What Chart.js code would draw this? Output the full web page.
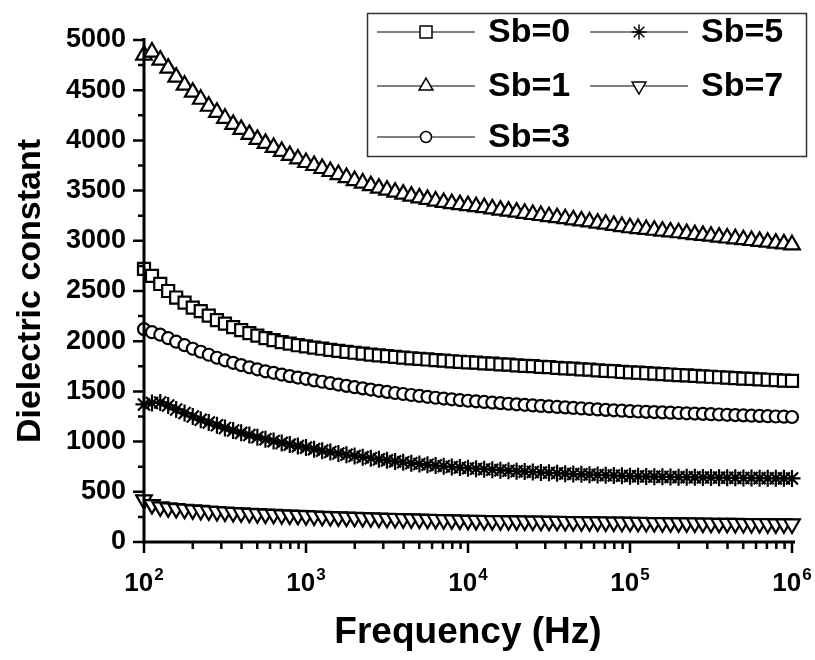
<!DOCTYPE html>
<html>
<head>
<meta charset="utf-8">
<script src="https://cdn.jsdelivr.net/npm/chart.js"></script>
<style>
  html, body { margin: 0; padding: 0; background: #fff; }
  #wrap { width: 815px; height: 660px; }
</style>
</head>
<body>
<div id="wrap"><canvas id="dielectricChart" width="815" height="660"></canvas></div>
<script>
// frequency points (Hz), 20 per decade
const freqHz = [
  100, 112, 126, 141, 158, 178, 200, 224, 251, 282, 316, 355, 398, 447, 501, 562, 631, 708, 794, 891,
  1000, 1122, 1259, 1413, 1585, 1778, 1995, 2239, 2512, 2818, 3162, 3548, 3981, 4467, 5012, 5623, 6310, 7079, 7943, 8913,
  10000, 11220, 12589, 14125, 15849, 17783, 19953, 22387, 25119, 28184, 31623, 35481, 39811, 44668, 50119, 56234, 63096, 70795, 79433, 89125,
  100000, 112202, 125893, 141254, 158489, 177828, 199526, 223872, 251189, 281838, 316228, 354813, 398107, 446684, 501187, 562341, 630957, 707946, 794328, 891251,
  1000000
];

const sb0 = [
  2720, 2650, 2570, 2500, 2435, 2385, 2335, 2300, 2255, 2210, 2175, 2140, 2110, 2080, 2055, 2030, 2010, 1990, 1975, 1960,
  1948, 1936, 1925, 1914, 1904, 1894, 1885, 1876, 1867, 1859, 1851, 1844, 1837, 1830, 1824, 1818, 1812, 1806, 1800, 1795,
  1790, 1786, 1780, 1776, 1770, 1766, 1760, 1755, 1751, 1745, 1741, 1735, 1730, 1726, 1720, 1716, 1710, 1705, 1701, 1695,
  1690, 1686, 1681, 1677, 1672, 1668, 1663, 1659, 1654, 1650, 1646, 1641, 1637, 1632, 1628, 1624, 1620, 1616, 1612, 1608,
  1605
];

const sb1 = [
  4850, 4880, 4800, 4720, 4630, 4550, 4480, 4410, 4340, 4280, 4220, 4160, 4110, 4060, 4010, 3970, 3930, 3890, 3850, 3815,
  3780, 3750, 3720, 3690, 3660, 3630, 3600, 3575, 3550, 3525, 3505, 3485, 3465, 3445, 3428, 3412, 3396, 3382, 3370, 3360,
  3350, 3340, 3330, 3318, 3306, 3296, 3286, 3274, 3262, 3252, 3240, 3230, 3220, 3208, 3198, 3188, 3176, 3166, 3154, 3142,
  3130, 3122, 3113, 3105, 3096, 3088, 3080, 3071, 3062, 3054, 3046, 3037, 3028, 3020, 3011, 3003, 2994, 2986, 2977, 2969,
  2960
];

const sb3 = [
  2120, 2090, 2065, 2030, 1995, 1960, 1925, 1895, 1865, 1835, 1810, 1785, 1762, 1740, 1720, 1700, 1685, 1668, 1652, 1638,
  1625, 1610, 1596, 1582, 1568, 1555, 1542, 1530, 1518, 1506, 1495, 1484, 1474, 1464, 1455, 1446, 1437, 1429, 1421, 1414,
  1407, 1401, 1395, 1389, 1383, 1377, 1371, 1366, 1360, 1355, 1350, 1345, 1340, 1335, 1330, 1325, 1320, 1316, 1312, 1308,
  1303, 1300, 1297, 1294, 1291, 1288, 1285, 1282, 1279, 1276, 1273, 1270, 1267, 1264, 1261, 1258, 1256, 1253, 1250, 1248,
  1245
];

const sb5 = [
  1370, 1385, 1390, 1360, 1320, 1285, 1250, 1218, 1190, 1162, 1135, 1110, 1087, 1065, 1044, 1024, 1005, 987, 970, 955,
  940, 925, 910, 896, 882, 869, 857, 845, 834, 823, 813, 803, 794, 785, 777, 769, 761, 754, 747, 741,
  735, 730, 725, 720, 715, 710, 705, 701, 697, 693, 689, 685, 681, 677, 674, 671, 668, 665, 662, 659,
  656, 654, 652, 651, 649, 648, 646, 645, 644, 643, 642, 641, 640, 639, 638, 637, 636, 635, 634, 634,
  633
];

const sb7 = [
  420, 372, 350, 340, 333, 326, 320, 314, 309, 304, 299, 294, 290, 286, 282, 278, 275, 271, 268, 265,
  262, 259, 256, 253, 250, 248, 245, 243, 240, 238, 236, 234, 232, 230, 228, 226, 224, 222, 220, 218,
  216, 215, 214, 213, 212, 211, 210, 209, 208, 207, 206, 205, 204, 203, 202, 201, 200, 199, 198, 197,
  196, 195, 194, 193, 192, 191, 190, 190, 189, 188, 187, 186, 186, 185, 184, 183, 183, 182, 181, 181,
  180
];

const xDecades = [2, 3, 4, 5, 6];

const FONT = '"Liberation Sans", Arial, Helvetica, sans-serif';
Chart.defaults.font.family = FONT;
Chart.defaults.color = "#000";

function makeSet(label, values, style, radius, rotation, legendRadius) {
  return {
    label: label,
    data: values.map((v, i) => ({ x: freqHz[i], y: v })),
    borderColor: "#000",
    borderWidth: 1,
    pointStyle: style,
    pointRadius: radius,
    pointRotation: rotation,
    pointBackgroundColor: "#fff",
    pointBorderColor: "#000",
    pointBorderWidth: 2.2,
    legendRadius: legendRadius,
    tension: 0,
    clip: false,
  };
}

// draws the axis lines and the major / minor tick marks
const axesPlugin = {
  id: "originAxes",
  afterDatasetsDraw(chart) {
    const { ctx, chartArea, scales } = chart;
    const xs = scales.x, ys = scales.y;
    ctx.save();
    ctx.strokeStyle = "#000";
    ctx.lineWidth = 3;
    ctx.beginPath();
    ctx.moveTo(chartArea.left, chartArea.top - 2);
    ctx.lineTo(chartArea.left, chartArea.bottom + 1.5);
    ctx.moveTo(chartArea.left - 1.5, chartArea.bottom);
    ctx.lineTo(chartArea.right + 3, chartArea.bottom);
    ctx.stroke();

    ctx.lineWidth = 2.5;
    ctx.beginPath();
    for (let v = ys.min; v <= ys.max; v += 250) {
      const py = ys.getPixelForValue(v);
      const len = v % 500 === 0 ? 11 : 6;
      ctx.moveTo(chartArea.left, py);
      ctx.lineTo(chartArea.left - len, py);
    }
    for (let e = 2; e <= 6; e++) {
      for (let m = 1; m <= (e === 6 ? 1 : 9); m++) {
        const px = xs.getPixelForValue(m * Math.pow(10, e));
        const len = m === 1 ? 11 : 7;
        ctx.moveTo(px, chartArea.bottom);
        ctx.lineTo(px, chartArea.bottom + len);
      }
    }
    ctx.stroke();

    // decade labels with superscript exponent
    ctx.fillStyle = "#000";
    ctx.textBaseline = "alphabetic";
    ctx.textAlign = "left";
    xDecades.forEach((e) => {
      const px = xs.getPixelForValue(Math.pow(10, e));
      ctx.font = "bold 26px " + FONT;
      const wBase = ctx.measureText("10").width;
      ctx.font = "bold 17px " + FONT;
      const wExp = ctx.measureText(String(e)).width;
      const start = px - (wBase + 1 + wExp) / 2;
      ctx.font = "bold 26px " + FONT;
      ctx.fillText("10", start, 591);
      ctx.font = "bold 17px " + FONT;
      ctx.fillText(String(e), start + wBase + 1, 580);
    });
    ctx.restore();
  },
};

// framed two-column legend
const legendPlugin = {
  id: "boxLegend",
  afterDraw(chart) {
    const ctx = chart.ctx;
    ctx.save();
    ctx.fillStyle = "#fff";
    ctx.fillRect(367, 13, 440, 144);
    ctx.strokeStyle = "#333";
    ctx.lineWidth = 1.5;
    ctx.strokeRect(367.5, 13.5, 439, 143);
    const slots = [[377, 32], [377, 86], [377, 137], [590, 32], [590, 86]];
    chart.data.datasets.forEach((ds, i) => {
      const sx = slots[i][0], sy = slots[i][1];
      ctx.strokeStyle = "#000";
      ctx.lineWidth = 1;
      ctx.beginPath();
      ctx.moveTo(sx, sy);
      ctx.lineTo(sx + 98, sy);
      ctx.stroke();
      ctx.fillStyle = "#fff";
      ctx.lineWidth = 1.5;
      Chart.helpers.drawPoint(ctx, {
        pointStyle: ds.pointStyle,
        rotation: ds.pointRotation || 0,
        radius: ds.legendRadius,
        borderWidth: 1.5,
      }, sx + 49, sy);
      ctx.fillStyle = "#000";
      ctx.font = "bold 34px " + FONT;
      ctx.textBaseline = "middle";
      ctx.textAlign = "left";
      ctx.fillText(ds.label, sx + 111, sy + 1);
    });
    ctx.restore();
  },
};

const ctx = document.getElementById("dielectricChart");

new Chart(ctx, {
  type: "line",
  data: {
    datasets: [
      makeSet("Sb=0", sb0, "rect", 8.5, 0, 8.5),
      makeSet("Sb=1", sb1, "triangle", 9, 0, 8),
      makeSet("Sb=3", sb3, "circle", 6, 0, 5.5),
      makeSet("Sb=5", sb5, "star", 8.5, 0, 7.5),
      makeSet("Sb=7", sb7, "triangle", 9, 180, 8),
    ],
  },
  options: {
    responsive: false,
    animation: false,
    devicePixelRatio: 1,
    layout: { padding: { top: 40, right: 23, left: 0, bottom: 0 } },
    plugins: {
      legend: { display: false },
      tooltip: { enabled: false },
    },
    scales: {
      x: {
        type: "logarithmic",
        min: 100,
        max: 1000000,
        grid: { display: false, drawTicks: false },
        border: { display: false },
        ticks: { display: false },
        title: {
          display: true,
          text: "Frequency (Hz)",
          font: { size: 37, weight: "bold", lineHeight: 1 },
          padding: { top: 0, bottom: 8.5 },
        },
        afterFit(scale) { scale.height = 118; },
      },
      y: {
        min: 0,
        max: 5000,
        grid: { display: false, drawTicks: false },
        border: { display: false },
        ticks: {
          stepSize: 500,
          padding: 18,
          font: { size: 27, weight: "bold" },
          color: "#000",
          callback: (value) => String(value),
        },
        title: {
          display: true,
          text: "Dielectric constant",
          font: { size: 34, weight: "bold", lineHeight: 1 },
          padding: { top: 14, bottom: 0 },
        },
        afterFit(scale) { scale.width = 144; },
      },
    },
  },
  plugins: [axesPlugin, legendPlugin],
});
</script>
</body>
</html>
